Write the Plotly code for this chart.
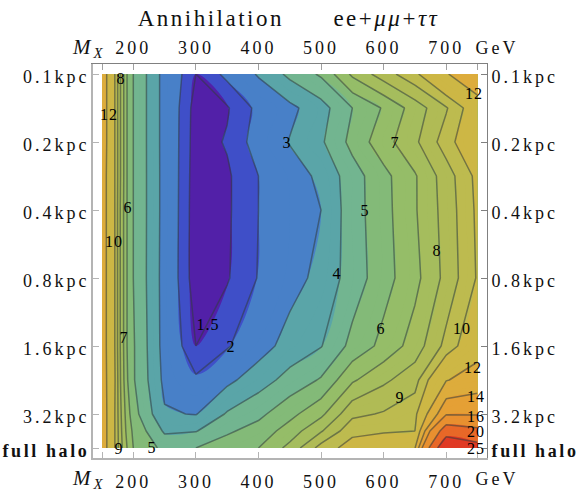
import plotly.graph_objects as go

# MX in GeV, and halo depth rows (row index: each step doubles the depth, last rows approach full halo)
mass = [150, 160, 170, 180, 190, 200, 250, 300, 350, 400, 450, 500, 550, 600, 650, 700, 750]
depth = [0, 0.5, 1, 1.5, 2, 3, 4, 4.5, 5, 5.25, 5.5]
r0 = [13.2, 11.6, 10.1, 7.9, 6.0, 5.0, 2.62, 1.5, 2.15, 3.1, 4.25, 5.15, 7.2, 8.5, 9.75, 11.85, 13.8]
r1 = [13.2, 11.6, 10.1, 7.9, 6.0, 5.0, 2.62, 1.28, 1.45, 2.15, 2.75, 3.6, 5.0, 6.1, 7.45, 8.9, 10.9]
r2 = [13.2, 11.6, 10.1, 7.9, 6.0, 5.0, 2.62, 1.25, 1.55, 2.27, 3.05, 3.85, 5.3, 6.6, 7.8, 9.5, 11.3]
r3 = [13.1, 11.5, 10.1, 7.9, 6.0, 5.0, 2.63, 1.22, 1.42, 2.0, 2.55, 3.2, 4.55, 5.7, 6.9, 8.5, 10.3]
r4 = [13.1, 11.5, 10.1, 7.8, 6.0, 5.0, 2.63, 1.2, 1.42, 2.0, 2.5, 3.0, 4.55, 5.65, 6.9, 8.4, 10.2]
r5 = [13.1, 11.5, 10.1, 7.8, 6.0, 5.0, 2.6, 1.2, 1.45, 2.03, 2.6, 3.3, 4.45, 5.6, 6.7, 8.3, 10.1]
r6 = [13.1, 11.5, 10.1, 7.8, 6.0, 5.1, 2.62, 1.5, 1.93, 2.55, 3.4, 3.95, 5.3, 6.3, 7.45, 9.3, 11.2]
r7 = [13.1, 11.6, 10.2, 7.9, 6.1, 5.1, 2.75, 2.1, 2.75, 3.55, 4.35, 5.1, 6.85, 7.8, 8.6, 11.9, 12.9]
r8 = [13.0, 11.7, 10.1, 8.1, 6.5, 5.4, 3.1, 2.95, 4.1, 4.75, 5.7, 6.75, 8.75, 9.1, 9.65, 15.7, 15.7]
r9 = [13.0, 11.7, 10.1, 8.2, 6.7, 5.8, 3.85, 3.95, 4.85, 5.4, 6.45, 7.9, 9.7, 9.85, 10.0, 22.5, 21.0]
r10 = [13.0, 11.7, 10.1, 8.3, 7.0, 6.0, 4.7, 5.0, 5.5, 6.0, 7.3, 9.4, 10.5, 11.2, 11.9, 30.0, 27.0]
values = [r0, r1, r2, r3, r4, r5, r6, r7, r8, r9, r10]

levels = [1.5, 2, 3, 4, 5, 6, 7, 8, 9, 10, 12, 14, 16, 20, 25]
base_color = "#5220A8"
band_colors = ["#3F4FC8", "#4880C8", "#5AA5A8", "#72B590", "#83BA78", "#95BD68", "#A5BD5D",
               "#B0BB55", "#BDBB4F", "#CDB745", "#DDAC3C", "#E5A035", "#E89030", "#E86828", "#E03A25"]

mass_ticks = [200, 300, 400, 500, 600, 700]
mass_text = ["200", "300", "400", "500", "600", "700"]
mass_edge_ticks = [150, 750]
depth_ticks = [0, 1, 2, 3, 4, 5, 5.5]
depth_text = ["0.1kpc", "0.2kpc", "0.4kpc", "0.8kpc", "1.6kpc", "3.2kpc", "<b>full halo</b>"]

label_text = ["8", "12", "6", "10", "7", "9", "5", "1.5", "2", "3", "4", "5", "6", "7", "8", "9", "10", "12", "12", "14", "16", "20", "25"]
label_mass = [180.4, 160.8, 192, 169.6, 185.6, 177.6, 230, 319.6, 356.4, 446, 526, 570.8, 596.4, 618.8, 686, 626.8, 726, 745, 743.6, 748.4, 748.4, 748.4, 748.4]
label_depth = [0.07, 0.59, 1.96, 2.46, 3.87, 5.5, 5.49, 3.68, 4.01, 1.0, 2.94, 2.01, 3.74, 1.0, 2.59, 4.75, 3.74, 0.28, 4.31, 4.74, 5.04, 5.25, 5.51]

FONT = "Liberation Serif"
LINE = "rgba(50,60,60,0.55)"
zmin, zmax = 1.0, 30.0

# stepped colour scale: one flat colour per contour band
edges = [zmin] + levels + [zmax]
cols = [base_color] + band_colors
scale = []
for i, c in enumerate(cols):
    scale.append([(edges[i] - zmin) / (zmax - zmin), c])
    scale.append([(edges[i + 1] - zmin) / (zmax - zmin), c])

fig = go.Figure()
fig.add_trace(go.Contour(x=mass, y=depth, z=values, showscale=False, hoverinfo="skip", zmin=zmin, zmax=zmax,
                         colorscale=scale, autocontour=False, line=dict(width=0),
                         contours=dict(coloring="fill", start=zmin, end=zmax, size=0.5, showlines=False)))
for lev in levels:
    fig.add_trace(go.Contour(x=mass, y=depth, z=values, showscale=False, hoverinfo="skip", autocontour=False,
                             contours=dict(coloring="none", start=lev, end=lev, size=1),
                             line=dict(color=LINE, width=1.5, smoothing=0)))
# empty trace so the mirrored top and right axes are drawn
fig.add_trace(go.Scatter(x=[None], y=[None], xaxis="x2", yaxis="y2", showlegend=False, hoverinfo="skip"))

for t, mx, dp in zip(label_text, label_mass, label_depth):
    fig.add_annotation(x=mx, y=dp, text=t, showarrow=False, font=dict(family=FONT, size=16, color="black"))

tfont = dict(family=FONT, size=18, color="#111")
xr = [135.6, 765.2]
yr = [5.647, -0.147]
ax_x = dict(range=xr, tickvals=mass_ticks, ticktext=mass_text, ticks="inside", ticklen=6, showgrid=False, automargin=False,
            zeroline=False, tickfont=tfont, minor=dict(tickvals=mass_edge_ticks, ticks="inside", ticklen=6, showgrid=False))
ax_y = dict(range=yr, tickvals=depth_ticks, ticktext=depth_text, ticks="inside", ticklen=6, showgrid=False, automargin=False,
            zeroline=False, tickfont=tfont, ticklabelshift=-3)
fig.update_layout(
    width=581, height=493, margin=dict(l=93, r=94, t=64, b=35), paper_bgcolor="white", plot_bgcolor="white",
    showlegend=False,
    title=dict(text="Annihilation\u00a0\u00a0\u00a0\u00a0\u00a0\u00a0ee+<i>μμ</i>+<i>ττ</i>", x=288.5 / 581, xanchor="center",
               y=1 - 18 / 493, yanchor="middle", font=dict(family=FONT, size=23, color="#111")),
    xaxis=dict(**ax_x, side="bottom", ticklabelstandoff=6, showline=True, linecolor="#b4b4b4", linewidth=2, tickcolor="#b4b4b4", tickwidth=1),
    yaxis=dict(**ax_y, side="left", ticklabelstandoff=-2, showline=True, linecolor="#b4b4b4", linewidth=2, tickcolor="#b4b4b4", tickwidth=1),
    xaxis2=dict(**ax_x, side="top", ticklabelstandoff=2, overlaying="x", anchor="y2", showline=True, linecolor="#808080", linewidth=1, tickcolor="#a0a0a0", tickwidth=1),
    yaxis2=dict(**ax_y, side="right", overlaying="y", anchor="x2", showline=True, linecolor="#808080", linewidth=1, tickcolor="#808080", tickwidth=1),
)


def paper_x(px):
    return (px - 93) / 394


def paper_y(py):
    return (458 - py) / 394


n_labels = len(label_text)
for py in (48, 479):
    fig.add_annotation(xref="paper", yref="paper", x=paper_x(89), y=paper_y(py), showarrow=False, xanchor="center", yanchor="middle",
                       text="<i>M</i><sub><i>X</i></sub>", font=dict(family=FONT, size=21, color="#111"))
    fig.add_annotation(xref="paper", yref="paper", x=paper_x(497), y=paper_y(py), showarrow=False, xanchor="center", yanchor="middle",
                       text="GeV", font=dict(family=FONT, size=18, color="#111"))

wide = ",".join('.annotation[data-index="%d"] text' % (n_labels + i) for i in range(4))
css = ("<style>html,body{margin:0;padding:0}svg text{letter-spacing:3px}"
       ".annotation text{letter-spacing:1px}.gtitle{letter-spacing:2.5px}"
       + wide + "{letter-spacing:3px}"
       "tspan[style*='bold']{letter-spacing:2.6px}</style>")
fig.write_html("out.html", config=dict(displayModeBar=False),
               post_script="document.head.insertAdjacentHTML('beforeend', %r);" % css)
